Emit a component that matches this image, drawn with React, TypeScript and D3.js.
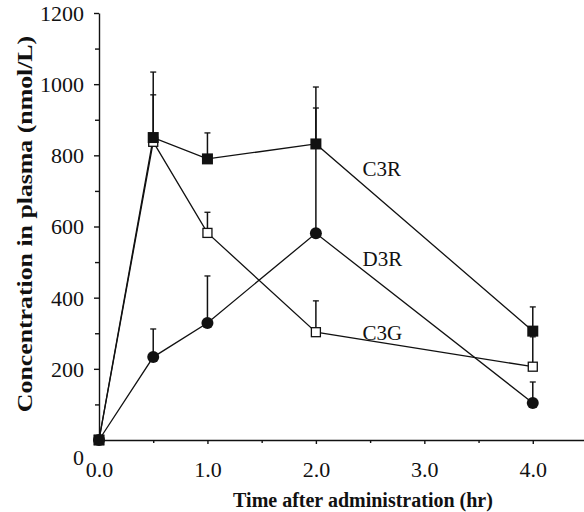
import React, { useEffect, useRef } from 'react'
import * as d3 from 'd3'

const times = [0, 0.5, 1, 2, 4]
const c3r = [0, 850, 790, 832, 306]
const c3rErr = [0, 184, 73, 160, 68]
const c3g = [0, 838, 582, 303, 206]
const c3gErr = [0, 132, 58, 88, 84]
const d3r = [0, 233, 329, 581, 104]
const d3rErr = [0, 79, 132, 352, 59]

const xMajor = [0, 1, 2, 3, 4]
const xMinor = [0.5, 1.5, 2.5, 3.5, 4.5]
const yMajor = [0, 200, 400, 600, 800, 1000, 1200]
const yMinor = [100, 300, 500, 700, 900, 1100]

const labels = [
  { name: 'C3R', t: 2.43, v: 762 },
  { name: 'D3R', t: 2.43, v: 511 },
  { name: 'C3G', t: 2.43, v: 303 },
]

const W = 584
const H = 512
const FONT = '"Liberation Serif", "Times New Roman", serif'

export default function App() {
  const ref = useRef<SVGSVGElement | null>(null)

  useEffect(() => {
    const svg = d3.select(ref.current)
    svg.selectAll('*').remove()

    const x = d3.scaleLinear().domain([0, 4.5]).range([99, 587])
    const y = d3.scaleLinear().domain([0, 1200]).range([440, 13])

    const g = svg.append('g')

    // axes
    const xAxis = g.append('g').attr('transform', `translate(0,${y(0)})`)
    xAxis.call(d3.axisBottom(x).tickValues(xMajor).tickSize(4).tickFormat(d3.format('.1f')) as any)
    xAxis.append('g').call(d3.axisBottom(x).tickValues(xMinor).tickSize(3).tickFormat(() => '') as any)
      .select('.domain').remove()
    xAxis.selectAll('text').attr('dy', 0).attr('y', 37)

    const yAxis = g.append('g').attr('transform', `translate(${x(0)},0)`)
    yAxis.call(d3.axisLeft(y).tickValues(yMajor).tickSize(5).tickPadding(10).tickSizeOuter(0).tickFormat(d3.format('d')) as any)
    yAxis.append('g').call(d3.axisLeft(y).tickValues(yMinor).tickSize(4).tickFormat(() => '') as any)
      .select('.domain').remove()

    g.selectAll('.domain, .tick line').attr('stroke', '#111').attr('stroke-width', 1.4)
    g.selectAll('.tick text')
      .attr('font-family', FONT)
      .attr('font-size', 22)
      .attr('fill', '#111')
    yAxis.selectAll('.tick text').attr('dy', '0.34em')
    // the zero label sits a little below the corner
    yAxis.selectAll('.tick text').filter((d: any) => d === 0).attr('dy', '1.1em')

    // error bars
    const series = [
      { vals: d3r, err: d3rErr },
      { vals: c3g, err: c3gErr },
      { vals: c3r, err: c3rErr },
    ]
    series.forEach(s => {
      const eb = g.append('g')
      times.forEach((t, i) => {
        if (!s.err[i]) return
        eb.append('line')
          .attr('x1', x(t)).attr('x2', x(t))
          .attr('y1', y(s.vals[i])).attr('y2', y(s.vals[i] + s.err[i]))
          .attr('stroke', '#111').attr('stroke-width', 1.5)
        eb.append('line')
          .attr('x1', x(t) - 3).attr('x2', x(t) + 3)
          .attr('y1', y(s.vals[i] + s.err[i])).attr('y2', y(s.vals[i] + s.err[i]))
          .attr('stroke', '#111').attr('stroke-width', 1.3)
      })
    })

    // lines
    const line = d3.line<number>()
      .x((d, i) => x(times[i]))
      .y(d => y(d))
    ;[d3r, c3g, c3r].forEach(vals => {
      g.append('path')
        .datum(vals)
        .attr('d', line)
        .attr('fill', 'none')
        .attr('stroke', '#111')
        .attr('stroke-width', 1.3)
    })

    // markers
    g.selectAll('.d3r').data(d3r).enter().append('circle')
      .attr('cx', (d, i) => x(times[i]))
      .attr('cy', d => y(d))
      .attr('r', 6)
      .attr('fill', '#111')

    g.selectAll('.c3g').data(c3g).enter().append('rect')
      .attr('x', (d, i) => x(times[i]) - 4.5)
      .attr('y', d => y(d) - 4.5)
      .attr('width', 9).attr('height', 9)
      .attr('fill', '#fff')
      .attr('stroke', '#111')
      .attr('stroke-width', 1.3)

    g.selectAll('.c3r').data(c3r).enter().append('rect')
      .attr('x', (d, i) => x(times[i]) - 5.5)
      .attr('y', d => y(d) - 5.5)
      .attr('width', 11).attr('height', 11)
      .attr('fill', '#111')

    // series labels
    g.selectAll('.lbl').data(labels).enter().append('text')
      .attr('x', d => x(d.t))
      .attr('y', d => y(d.v))
      .attr('dy', '0.35em')
      .attr('font-family', FONT)
      .attr('font-size', 21)
      .attr('fill', '#111')
      .text(d => d.name)

    // axis titles
    g.append('text')
      .attr('x', 363).attr('y', 507)
      .attr('text-anchor', 'middle')
      .attr('font-family', FONT)
      .attr('font-weight', 'bold')
      .attr('font-size', 20)
      .attr('fill', '#111')
      .text('Time after administration (hr)')

    g.append('text')
      .attr('transform', 'translate(32,224) rotate(-90) scale(1.23,1)')
      .attr('text-anchor', 'middle')
      .attr('font-family', FONT)
      .attr('font-weight', 'bold')
      .attr('font-size', 21)
      .attr('fill', '#111')
      .text('Concentration in plasma (nmol/L)')
  }, [])

  return (
    <div style={{ position: 'absolute', left: 0, top: 0, background: '#fff' }}>
      <svg ref={ref} width={W} height={H} style={{ display: 'block' }} />
    </div>
  )
}
